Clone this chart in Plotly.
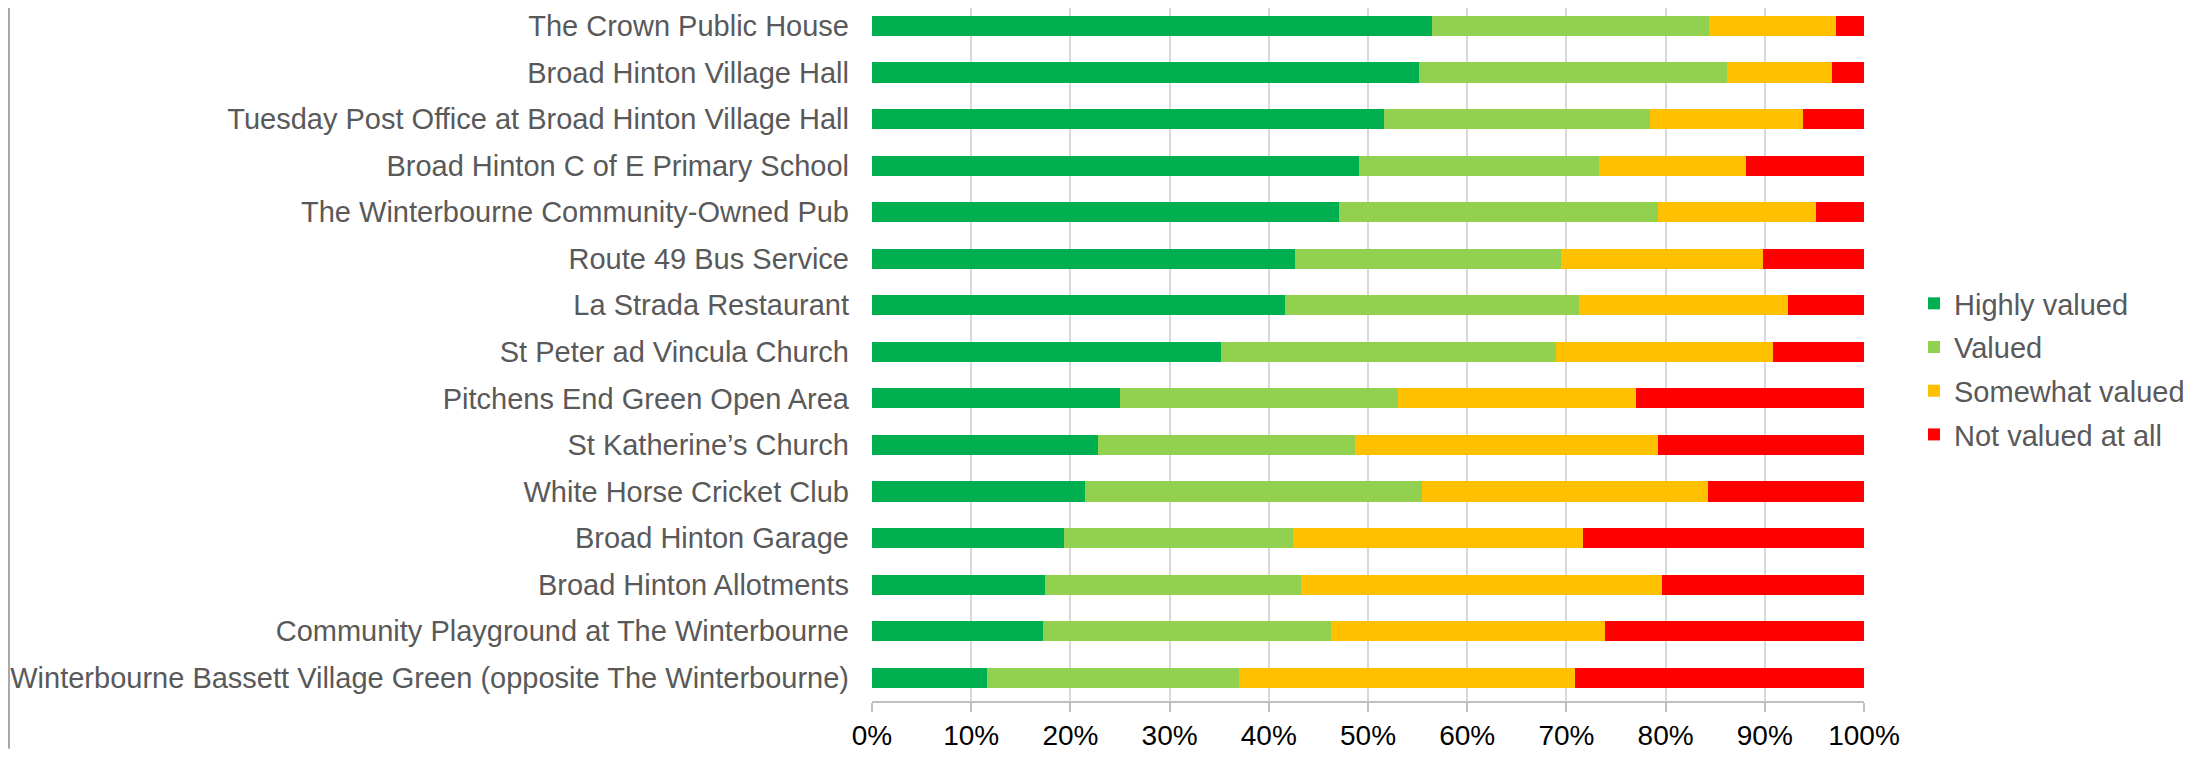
import plotly.graph_objects as go

categories = [
    "The Crown Public House",
    "Broad Hinton Village Hall",
    "Tuesday Post Office at Broad Hinton Village Hall",
    "Broad Hinton C of E Primary School",
    "The Winterbourne Community-Owned Pub",
    "Route 49 Bus Service",
    "La Strada Restaurant",
    "St Peter ad Vincula Church",
    "Pitchens End Green Open Area",
    "St Katherine\u2019s Church",
    "White Horse Cricket Club",
    "Broad Hinton Garage",
    "Broad Hinton Allotments",
    "Community Playground at The Winterbourne",
    "Winterbourne Bassett Village Green (opposite The Winterbourne)",
]

highly_valued = [56.5, 55.1, 51.6, 49.1, 47.1, 42.6, 41.6, 35.2, 25.0, 22.8, 21.5, 19.4, 17.4, 17.2, 11.6]
valued = [27.9, 31.1, 26.8, 24.2, 32.1, 26.9, 29.7, 33.8, 28.0, 25.9, 33.9, 23.0, 25.8, 29.1, 25.4]
somewhat_valued = [12.8, 10.6, 15.4, 14.8, 16.0, 20.3, 21.0, 21.8, 24.0, 30.5, 28.9, 29.3, 36.4, 27.6, 33.9]
not_valued = [2.8, 3.2, 6.2, 11.9, 4.8, 10.2, 7.7, 9.2, 23.0, 20.8, 15.7, 28.3, 20.4, 26.1, 29.1]

series = [
    ("Highly valued", highly_valued, "#00b050"),
    ("Valued", valued, "#92d050"),
    ("Somewhat valued", somewhat_valued, "#ffc000"),
    ("Not valued at all", not_valued, "#ff0000"),
]

tick_vals = [0, 10, 20, 30, 40, 50, 60, 70, 80, 90, 100]
tick_text = ["0%", "10%", "20%", "30%", "40%", "50%", "60%", "70%", "80%", "90%", "100%"]

fig = go.Figure()
for name, vals, color in series:
    fig.add_trace(go.Bar(
        y=categories, x=vals, name=name, orientation="h",
        legendgroup=name,
        marker=dict(color=color, line=dict(width=0)),
    ))

# page has an 8px body margin; figure coordinates = page coordinates - 8
OFF = 8
W, H = 2208 - 2 * OFF, 759 - 2 * OFF
L = 872 - OFF
R = W - (1864 - OFF)
T = 0
B = H - (703 - OFF)
pw, ph = W - L - R, H - T - B

row_px = (680 - 26) / 14.0
first_center = 26 - OFF
y_top = -first_center / row_px

fig.update_layout(
    width=W, height=H,
    margin=dict(l=L, r=R, t=T, b=B, pad=0),
    barmode="stack",
    bargap=0.57,
    plot_bgcolor="white",
    paper_bgcolor="white",
    font=dict(family="Liberation Sans, Arial, sans-serif", size=29, color="#595959"),
    legend=dict(
        x=(1914 - OFF - L) / pw, xanchor="left",
        y=(703 - 370) / ph, yanchor="middle",
        font=dict(size=29, color="#595959"),
        bgcolor="rgba(0,0,0,0)",
        traceorder="grouped",
        tracegroupgap=3,
    ),
    xaxis=dict(
        range=[0, 100],
        tickvals=tick_vals, ticktext=tick_text,
        showgrid=True, gridcolor="#d9d9d9", gridwidth=1.5,
        showline=True, linecolor="#bfbfbf", linewidth=1.5,
        ticks="outside", ticklen=9, tickcolor="#bfbfbf", tickwidth=1.5,
        tickfont=dict(size=28, color="#000000"),
        zeroline=False,
        fixedrange=True,
    ),
    yaxis=dict(
        range=[14.5, y_top],
        showgrid=False, showline=False,
        ticks="", ticklabelstandoff=22,
        tickfont=dict(size=29, color="#595959"),
        fixedrange=True,
    ),
    showlegend=True,
)

# chart-area left border
fig.add_shape(type="line", xref="paper", yref="paper",
              x0=(1 - L) / pw, x1=(1 - L) / pw,
              y0=-B / ph, y1=1,
              line=dict(color="#8c8c8c", width=1.5))

fig.write_html("out.html")
